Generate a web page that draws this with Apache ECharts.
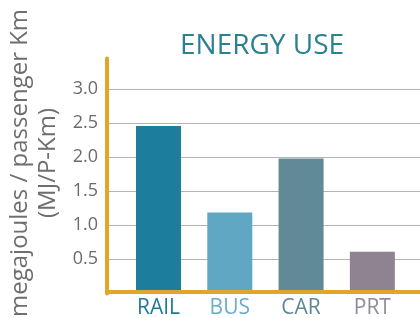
<!DOCTYPE html>
<html>
<head>
<meta charset="utf-8">
<script src="https://cdn.jsdelivr.net/npm/echarts@6/dist/echarts.min.js"></script>
<style>
  html, body { margin: 0; padding: 0; background: #fff; }
  #chart { width: 420px; height: 318px; }
</style>
</head>
<body>
<div id="chart"></div>
<script>
// Datos del gráfico
const categories = ['RAIL', 'BUS', 'CAR', 'PRT'];
const energyUse = [2.46, 1.19, 1.98, 0.61];
const barColors = ['#1c7d9d', '#60a7c4', '#618a98', '#8f8392'];
const labelColors = ['#1f7b99', '#6aaecb', '#5f8896', '#958a9b'];

(function () {
    const el = document.getElementById('chart');
    const chart = echarts.init(el, null, { renderer: 'canvas' });

    const FONT = '"Open Sans", "DejaVu Sans", sans-serif';
    const ORANGE = '#e2a42b';
    const TOP = 58.5, BOTTOM = 24.6;
    const YMAX = 3.45;

    const option = {
        animation: false,
        title: {
            text: 'ENERGY USE',
            left: 175,
            top: 27,
            textStyle: { fontFamily: FONT, fontSize: 28, fontWeight: 'normal', color: '#2b8091' }
        },
        grid: [
            // ejes, etiquetas y líneas guía
            { left: 107, right: 0, top: TOP, bottom: BOTTOM, outerBoundsMode: 'none', containLabel: false },
            // barras
            { left: 122.85, right: 12, top: TOP, bottom: BOTTOM, outerBoundsMode: 'none', containLabel: false }
        ],
        xAxis: [
            {
                gridIndex: 0, type: 'value', min: 0, max: 1, offset: -2, z: 10,
                axisLine: { show: true, lineStyle: { color: ORANGE, width: 4, cap: 'round' } },
                axisTick: { show: false }, axisLabel: { show: false }, splitLine: { show: false }
            },
            {
                gridIndex: 1, type: 'category', data: categories,
                axisLine: { show: false }, axisTick: { show: false },
                axisLabel: {
                    margin: 4,
                    fontFamily: FONT, fontSize: 21,
                    color: (v, i) => labelColors[i]
                }
            }
        ],
        yAxis: [
            {
                gridIndex: 0, type: 'value', min: 0, max: YMAX, interval: 0.5,
                name: 'megajoules / passenger Km\n(MJ/P-Km)',
                nameLocation: 'middle', nameRotate: 90, nameGap: 38,
                nameTextStyle: {
                    fontFamily: FONT, fontSize: 24, color: '#6e6e6e', lineHeight: 28,
                    padding: [0, 0, 0, 26]
                },
                axisLine: { show: true, lineStyle: { color: ORANGE, width: 4, cap: 'round' } },
                axisTick: { show: false },
                axisLabel: {
                    margin: 9, fontFamily: FONT, fontSize: 18, color: '#6b6b6b',
                    showMinLabel: false, showMaxLabel: false,
                    formatter: v => v.toFixed(1)
                },
                splitLine: { show: true, showMinLine: false, showMaxLine: false, lineStyle: { color: '#b4b4b4', width: 1 } }
            },
            {
                gridIndex: 1, type: 'value', min: 0, max: YMAX, interval: 0.5, show: false,
                splitLine: { show: false }
            }
        ],
        series: [
            {
                type: 'bar',
                xAxisIndex: 1, yAxisIndex: 1,
                barWidth: 45,
                data: energyUse.map((v, i) => ({ value: v, itemStyle: { color: barColors[i] } }))
            }
        ]
    };

    chart.setOption(option);
})();
</script>
</body>
</html>
